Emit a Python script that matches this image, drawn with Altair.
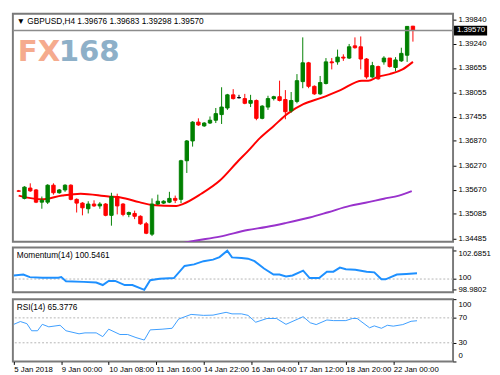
import altair as alt
import pandas as pd

# ---------------- data ----------------
bar_index = list(range(69))
opens = [1.35648, 1.35464, 1.35717, 1.35671, 1.35372, 1.35372, 1.35787, 1.35602, 1.35671, 1.35787,
         1.35441, 1.35349, 1.35211, 1.35326, 1.35280, 1.35326, 1.35050, 1.35510, 1.35326, 1.35073,
         1.35096, 1.35027, 1.34843, 1.34589, 1.35326, 1.35349, 1.35372, 1.35464, 1.35441, 1.36385,
         1.36869, 1.37330, 1.37237, 1.37307, 1.37376, 1.37514, 1.37675, 1.37997, 1.37928, 1.37905,
         1.37790, 1.37859, 1.37422, 1.37698, 1.37905, 1.37951, 1.37882, 1.37606, 1.37836, 1.38320,
         1.38780, 1.38205, 1.38020, 1.38274, 1.38803, 1.38803, 1.38919, 1.38896, 1.39195, 1.39172,
         1.38873, 1.38435, 1.38688, 1.38803, 1.38896, 1.38665, 1.38827, 1.38965, 1.39676]
highs = [1.35671, 1.35763, 1.35833, 1.35694, 1.35510, 1.35810, 1.35833, 1.35694, 1.35810, 1.35810,
         1.35464, 1.35372, 1.35395, 1.35418, 1.35372, 1.35349, 1.35602, 1.35579, 1.35349, 1.35142,
         1.35165, 1.35050, 1.34888, 1.35464, 1.35556, 1.35418, 1.35625, 1.35533, 1.36408, 1.36892,
         1.37353, 1.37422, 1.37330, 1.37468, 1.37675, 1.38182, 1.38020, 1.38136, 1.37997, 1.38020,
         1.37997, 1.37882, 1.37744, 1.37974, 1.37974, 1.38343, 1.38113, 1.38066, 1.38504, 1.39402,
         1.38803, 1.38228, 1.38458, 1.38896, 1.38896, 1.39103, 1.38988, 1.39241, 1.39402, 1.39425,
         1.38896, 1.38803, 1.38711, 1.38942, 1.38896, 1.38919, 1.39149, 1.39679, 1.39683]
lows = [1.35625, 1.35441, 1.35625, 1.35349, 1.35211, 1.35326, 1.35556, 1.35579, 1.35625, 1.35418,
        1.35119, 1.35050, 1.35096, 1.35257, 1.35211, 1.35027, 1.34797, 1.35073, 1.35027, 1.35004,
        1.34957, 1.34819, 1.34589, 1.34543, 1.35303, 1.35326, 1.35349, 1.35349, 1.35349, 1.36086,
        1.36731, 1.37237, 1.37214, 1.37284, 1.37307, 1.37284, 1.37629, 1.37882, 1.37905, 1.37767,
        1.37698, 1.37376, 1.37399, 1.37629, 1.37859, 1.37836, 1.37399, 1.37560, 1.37790, 1.38159,
        1.38159, 1.37997, 1.37997, 1.38251, 1.38619, 1.38734, 1.38827, 1.38873, 1.39126, 1.38619,
        1.38389, 1.38412, 1.38366, 1.38734, 1.38665, 1.38573, 1.38803, 1.38803, 1.39298]
closes = [1.35640, 1.35740, 1.35648, 1.35372, 1.35418, 1.35787, 1.35602, 1.35671, 1.35787, 1.35441,
          1.35349, 1.35234, 1.35326, 1.35280, 1.35326, 1.35050, 1.35510, 1.35280, 1.35073, 1.35119,
          1.35027, 1.34843, 1.34612, 1.35326, 1.35395, 1.35395, 1.35464, 1.35418, 1.36385, 1.36869,
          1.37330, 1.37261, 1.37307, 1.37376, 1.37537, 1.37698, 1.37997, 1.37905, 1.37928, 1.37790,
          1.37859, 1.37422, 1.37721, 1.37905, 1.37951, 1.37859, 1.37583, 1.37859, 1.38343, 1.38780,
          1.38205, 1.38020, 1.38297, 1.38803, 1.38780, 1.38919, 1.38896, 1.39172, 1.39149, 1.38873,
          1.38435, 1.38711, 1.38389, 1.38896, 1.38688, 1.38850, 1.39011, 1.39670, 1.39570]

ma_red_i = [0, 4, 7.5, 10.7, 15.5, 17.6, 20.8, 23, 27.2, 28.3, 31.5, 34.7, 37.9, 39.5, 41.6, 44,
            46.4, 49.1, 52.3, 55.5, 59.2, 60.3, 61.9, 64, 66.2, 68]
ma_red_v = [1.35533, 1.35441, 1.35533, 1.35579, 1.35510, 1.35487, 1.35372, 1.35303, 1.35280, 1.35326,
            1.35579, 1.35902, 1.36385, 1.36615, 1.36938, 1.37237, 1.37537, 1.37767, 1.37928, 1.38113,
            1.38343, 1.38343, 1.38435, 1.38504, 1.38619, 1.38803]

ma_pur_i = [24, 30.4, 34.7, 39.5, 42.7, 45.9, 50.2, 53.4, 57.1, 59.8, 63, 65.6, 67.8]
ma_pur_v = [1.3425, 1.34428, 1.34530, 1.34690, 1.34766, 1.34858, 1.34997, 1.35126, 1.35280, 1.35356,
            1.35457, 1.35533, 1.35641]

mom_i = [0, 1.6, 2.7, 4.8, 7.5, 8, 8.8, 11.8, 13.9, 15, 16, 17.1, 18.7, 20, 22, 23, 24.6, 27, 28.8,
         30.4, 32, 33.6, 34.7, 36, 36.8, 38.4, 39.5, 40.6, 42.2, 43.8, 44.8, 45.9, 47, 48.8, 49.9,
         51.5, 52.8, 53.9, 55, 56, 57.6, 59.5, 60.8, 62, 62.7, 64.6, 66.2, 68]
mom_v = [100.336, 100.426, 100.182, 100.119, 100.119, 100.182, 99.793, 99.730, 99.667, 99.432,
         99.820, 99.820, 99.432, 99.432, 98.9802, 99.884, 100.028, 100.091, 101.239, 101.384,
         101.691, 101.835, 102.079, 102.6851, 102.052, 101.989, 101.926, 101.691, 100.995, 100.426,
         100.426, 100.245, 100.336, 100.787, 100.091, 100.091, 100.697, 100.697, 101.085, 100.932,
         100.878, 100.697, 100.634, 99.974, 99.974, 100.426, 100.480, 100.5461]

rsi_i = [0, 1.1, 2.2, 3, 4, 4.8, 5.9, 7.8, 8.8, 11, 12, 13.9, 15, 16, 17.9, 19.2, 20.6, 22, 23, 25,
         26.7, 27.8, 29.9, 32, 33.6, 35.8, 36.8, 38.4, 39.5, 40.8, 42.7, 44.3, 45.9, 48.8, 50, 51,
         52.8, 53.9, 56, 57.1, 57.9, 60, 60.8, 62, 63, 64, 65.6, 67, 68]
rsi_v = [59.6, 64.1, 60.7, 49.3, 49.3, 59.6, 55.6, 58.1, 49.3, 44.4, 45.9, 45.9, 39.9, 51.8, 43.3,
         43.3, 38.4, 34.4, 50.7, 51.8, 53.3, 68.1, 75.5, 74.0, 74.4, 78.9, 76.4, 76.4, 74.0, 63.0,
         69.0, 69.0, 59.6, 71.9, 62.1, 59.2, 66.6, 65.6, 65.6, 69.0, 69.0, 54.1, 57.1, 53.3, 58.1,
         56.7, 59.2, 64.5, 65.3776]

price_ticks = [1.39840, 1.39240, 1.38655, 1.38055, 1.37455, 1.36870, 1.36270, 1.35670, 1.35085, 1.34485]
bid = [1.39570]
mom_ticks = [98.9802, 100, 102.6851]
rsi_ticks = [0, 30, 70, 100]
time_ticks = [0, 8, 16, 24, 32, 40, 48, 56, 64]
time_labels = ["5 Jan 2018", "9 Jan 00:00", "10 Jan 08:00", "11 Jan 16:00", "14 Jan 22:00",
               "16 Jan 04:00", "17 Jan 12:00", "18 Jan 20:00", "22 Jan 00:00"]
header = "\u25bc GBPUSD,H4  1.39676 1.39683 1.39298 1.39570"
mom_title = "Momentum(14) 100.5461"
rsi_title = "RSI(14) 65.3776"

# ---------------- layout / style ----------------
W = 452
H1, H2, H3 = 234, 46, 64
FONT = "Liberation Sans"
XDOM = [-0.16, 74.08]


def xs():
    return alt.Scale(domain=XDOM, nice=False, zero=False)


def lab_offset(cond):
    return {"condition": [{"test": t, "value": v} for t, v in cond], "value": 0}


price_scale = alt.Scale(domain=[1.34405, 1.39978], nice=False, zero=False)
price_axis = alt.Axis(orient="right", values=price_ticks, format=".5f", title=None, grid=False,
                      domain=False, tickSize=3, labelPadding=2, labelOverlap=False)


def py(field):
    return alt.Y(field, scale=price_scale, axis=price_axis)


candles = pd.DataFrame({"i": bar_index, "o": opens, "h": highs, "l": lows, "c": closes})
candles["dir"] = ["up" if c > o else ("down" if c < o else "doji") for o, c in zip(opens, closes)]
cscale = alt.Scale(domain=["up", "down", "doji"], range=["#008000", "#ff0000", "#000000"])

base = alt.Chart(candles)
wicks = base.mark_rule(strokeWidth=1).encode(
    x=alt.X("i:Q", scale=xs(), axis=None), y=py("l:Q"), y2="h:Q",
    color=alt.Color("dir:N", scale=cscale, legend=None))
bodies = base.mark_bar(size=3.5, strokeWidth=1).encode(
    x=alt.X("i:Q", scale=xs(), axis=None), y=py("o:Q"), y2="c:Q",
    color=alt.Color("dir:N", scale=cscale, legend=None),
    stroke=alt.Stroke("dir:N", scale=cscale, legend=None))

red_ma = alt.Chart(pd.DataFrame({"i": ma_red_i, "v": ma_red_v})).mark_line(
    color="#ff0000", strokeWidth=2, interpolate="monotone").encode(
    x=alt.X("i:Q", scale=xs(), axis=None), y=py("v:Q"))
pur_ma = alt.Chart(pd.DataFrame({"i": ma_pur_i, "v": ma_pur_v})).mark_line(
    color="#9932cc", strokeWidth=2, clip=True, interpolate="monotone").encode(
    x=alt.X("i:Q", scale=xs(), axis=None), y=py("v:Q"))

bid_df = pd.DataFrame({"v": bid, "t": ["%.5f" % b for b in bid]})
bid_rule = alt.Chart(bid_df).mark_rule(color="#8c8c8c", strokeWidth=1.5).encode(y=py("v:Q"))
bid_box = alt.Chart(bid_df).mark_rect(color="#000000", yOffset=-5, y2Offset=5).encode(
    x=alt.value(W + 1), x2=alt.value(W + 35), y=py("v:Q"), y2="v:Q")
bid_txt = alt.Chart(bid_df).mark_text(align="left", baseline="middle", color="white",
                                      font=FONT, fontSize=8).encode(
    x=alt.value(W + 4), y=py("v:Q"), text="t:N")

head = alt.Chart(pd.DataFrame({"t": [header]})).mark_text(
    align="left", baseline="middle", font=FONT, fontSize=8.5, color="#000000").encode(
    x=alt.value(4), y=alt.value(7), text="t:N")
logo_fx = alt.Chart(pd.DataFrame({"t": ["FX"]})).mark_text(
    align="left", baseline="alphabetic", font="DejaVu Sans", fontWeight="bold", fontSize=30,
    color="#f5ab8e").encode(x=alt.value(5), y=alt.value(48), text="t:N")
logo_num = alt.Chart(pd.DataFrame({"t": ["168"]})).mark_text(
    align="left", baseline="alphabetic", font="DejaVu Sans", fontWeight="bold", fontSize=30,
    color="#8eb0c8").encode(x=alt.value(47), y=alt.value(48), text="t:N")

main = alt.layer(pur_ma, red_ma, wicks, bodies, bid_rule, bid_box, bid_txt, logo_fx, logo_num, head
                 ).properties(width=W, height=H1)

# ---------------- momentum ----------------
mom_scale = alt.Scale(domain=[98.74, 102.98], nice=False, zero=False)
mom_axis = alt.Axis(orient="right", values=mom_ticks, title=None, grid=False, domain=False,
                    tickSize=3, labelPadding=2, labelOverlap=False,
                    labelExpr="datum.value == 100 ? '100' : format(datum.value, '.4f')",
                    labelOffset=lab_offset([("datum.value > 102", 3), ("datum.value < 99.5", 0),
                                            ("datum.value == 100", -2)]))
mom_line = alt.Chart(pd.DataFrame({"i": mom_i, "v": mom_v})).mark_line(
    color="#1e90ff", strokeWidth=2).encode(
    x=alt.X("i:Q", scale=xs(), axis=None), y=alt.Y("v:Q", scale=mom_scale, axis=mom_axis))
mom_ref = alt.Chart(pd.DataFrame({"v": [100]})).mark_rule(
    color="#b4b4b4", strokeDash=[2, 2], strokeWidth=1).encode(
    y=alt.Y("v:Q", scale=mom_scale, axis=mom_axis))
mom_lbl = alt.Chart(pd.DataFrame({"t": [mom_title]})).mark_text(
    align="left", baseline="middle", font=FONT, fontSize=8.5, color="#000000").encode(
    x=alt.value(4), y=alt.value(8), text="t:N")
momc = alt.layer(mom_ref, mom_line, mom_lbl).properties(width=W, height=H2)

# ---------------- RSI ----------------
rsi_scale = alt.Scale(domain=[0, 100], nice=False, zero=False)
rsi_axis = alt.Axis(orient="right", values=rsi_ticks, title=None, grid=False, domain=False,
                    tickSize=3, labelPadding=2, labelOverlap=False, format="d",
                    labelOffset=lab_offset([("datum.value > 90", 6), ("datum.value < 10", -6)]))
time_axis = alt.Axis(orient="bottom", values=time_ticks, title=None, grid=False, domain=False,
                     tickSize=3, labelPadding=1, labelAlign="left", labelOverlap=False,
                     labelFlush=False,
                     labelExpr="%s[datum.value / 8]" % str(time_labels).replace("'", '"'))
rsi_line = alt.Chart(pd.DataFrame({"i": rsi_i, "v": rsi_v})).mark_line(
    color="#3a9cff", strokeWidth=1).encode(
    x=alt.X("i:Q", scale=xs(), axis=time_axis), y=alt.Y("v:Q", scale=rsi_scale, axis=rsi_axis))
rsi_ref = alt.Chart(pd.DataFrame({"v": [30, 70]})).mark_rule(
    color="#b4b4b4", strokeDash=[2, 2], strokeWidth=1).encode(
    y=alt.Y("v:Q", scale=rsi_scale, axis=rsi_axis))
rsi_lbl = alt.Chart(pd.DataFrame({"t": [rsi_title]})).mark_text(
    align="left", baseline="middle", font=FONT, fontSize=8.5, color="#000000").encode(
    x=alt.value(4), y=alt.value(8), text="t:N")
rsic = alt.layer(rsi_ref, rsi_line, rsi_lbl).properties(width=W, height=H3)

chart = alt.vconcat(main, momc, rsic, spacing=2).resolve_scale(
    x="independent", y="independent").properties(padding=0).configure_view(
    stroke="#7a7a7a", strokeWidth=2).configure_axis(
    labelFont=FONT, labelFontSize=8, labelColor="#000000", tickColor="#000000", tickWidth=1)

chart.save("out.html", embed_options={"renderer": "svg", "actions": False})
